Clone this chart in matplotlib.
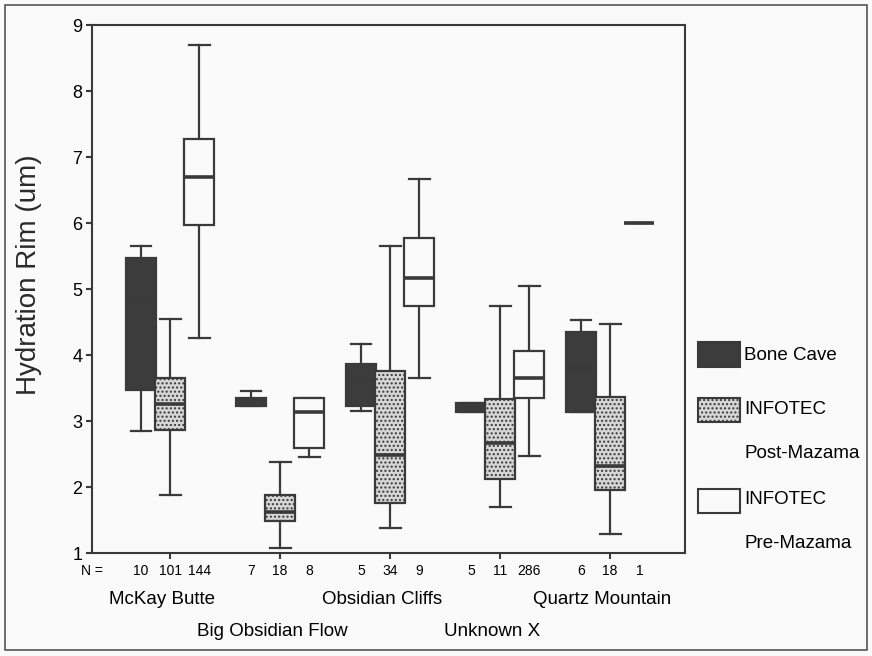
import matplotlib
matplotlib.use("Agg")
import matplotlib.pyplot as plt
from matplotlib.patches import Rectangle
from matplotlib.transforms import blended_transform_factory

plt.rcParams['font.family'] = ['Liberation Sans', 'DejaVu Sans']
plt.rcParams['hatch.linewidth'] = 1.0

# ── data ──
sites = ["McKay Butte", "Big Obsidian Flow", "Obsidian Cliffs", "Unknown X", "Quartz Mountain"]
series = ["Bone Cave", "INFOTEC\nPost-Mazama", "INFOTEC\nPre-Mazama"]

bone_n = [10, 7, 5, 5, 6]
post_n = [101, 18, 34, 11, 18]
pre_n = [144, 8, 9, 286, 1]

# (whislo, q1, med, q3, whishi)
bone_stats = [
    (2.85, 3.47, 4.85, 5.47, 5.65),
    (3.23, 3.23, 3.30, 3.35, 3.45),
    (3.15, 3.23, 3.60, 3.86, 4.17),
    (3.14, 3.14, 3.20, 3.27, 3.27),
    (3.14, 3.14, 3.80, 4.35, 4.53),
]
post_stats = [
    (1.88, 2.86, 3.26, 3.65, 4.55),
    (1.08, 1.48, 1.62, 1.88, 2.38),
    (1.38, 1.76, 2.48, 3.76, 5.65),
    (1.70, 2.12, 2.67, 3.33, 4.74),
    (1.29, 1.95, 2.32, 3.36, 4.47),
]
pre_stats = [
    (4.26, 5.97, 6.70, 7.27, 8.69),
    (2.45, 2.59, 3.14, 3.35, 3.35),
    (3.65, 4.74, 5.17, 5.77, 6.67),
    (2.47, 3.35, 3.65, 4.06, 5.05),
    (6.00, 6.00, 6.00, 6.00, 6.00),
]

ink = '#3a3a3a'
styles = [
    dict(face='#3c3c3c', hatch=None, med=ink),
    dict(face='#d6d6d6', hatch='....', med=ink),
    dict(face='#fafafa', hatch=None, med=ink),
]
bg = '#fafafa'

fig = plt.figure(figsize=(8.72, 6.56), dpi=100, facecolor=bg)
W, H = 872, 656
ax = fig.add_axes([92 / W, (H - 553) / H, 593 / W, 528 / H], facecolor=bg)

off = 0.265
bw = 0.27
all_n = [bone_n, post_n, pre_n]
for k, (stats, st) in enumerate(zip([bone_stats, post_stats, pre_stats], styles)):
    bxp_stats = []
    for s in stats:
        bxp_stats.append(dict(whislo=s[0], q1=s[1], med=s[2], q3=s[3], whishi=s[4], fliers=[]))
    pos = [i + (k - 1) * off for i in range(len(sites))]
    art = ax.bxp(bxp_stats, positions=pos, widths=bw, capwidths=0.19,
                 patch_artist=True, showfliers=False,
                 boxprops=dict(facecolor=st['face'], edgecolor=ink, linewidth=1.6,
                               hatch=st['hatch']),
                 medianprops=dict(color=st['med'], linewidth=2.6),
                 whiskerprops=dict(color=ink, linewidth=1.6),
                 capprops=dict(color=ink, linewidth=1.6))
    for b in art['boxes']:
        b.set_zorder(3)
    for m in art['medians']:
        m.set_zorder(4)

ax.set_xlim(-0.71, 4.68)
ax.set_ylim(1, 9)
ax.set_yticks(range(1, 10))
ax.set_yticklabels([str(v) for v in range(1, 10)], fontsize=13)
ax.set_xticks(range(len(sites)))
ax.set_xticklabels([])
ax.tick_params(axis='both', direction='out', length=4, width=1.5, color=ink, pad=3)
for sp in ax.spines.values():
    sp.set_color(ink)
    sp.set_linewidth(1.5)
ax.set_ylabel("Hydration Rim (um)", fontsize=20, color='#2a2a2a')
ax.yaxis.set_label_coords(-0.085, 0.527)

# N counts and site names under the axis
tr = blended_transform_factory(ax.transData, ax.transAxes)
ax.text(0, -0.034, "N =", transform=ax.transAxes, ha='center', va='center', fontsize=10)
for k, ns in enumerate(all_n):
    for i, n in enumerate(ns):
        ax.text(i + (k - 1) * off, -0.034, str(n), transform=tr, ha='center', va='center',
                fontsize=10)
for i, name in enumerate(sites):
    yy = -0.089 if i % 2 == 0 else -0.148
    ax.text(i - 0.07, yy, name, transform=tr, ha='center', va='center', fontsize=13.5)

# legend drawn by hand to the right of the axes
leg_boxes = [(342, 367), (398, 422), (489, 513)]
leg_lines = [[("Bone Cave", 355)], [("INFOTEC", 410), ("Post-Mazama", 453)],
             [("INFOTEC", 500), ("Pre-Mazama", 543)]]
for st, (y0, y1), lines in zip(styles, leg_boxes, leg_lines):
    fig.add_artist(Rectangle((698 / W, (H - y1) / H), 42 / W, (y1 - y0) / H,
                             transform=fig.transFigure, facecolor=st['face'],
                             edgecolor=ink, linewidth=1.5, hatch=st['hatch']))
    for txt, yc in lines:
        fig.text(744 / W, (H - yc) / H, txt, ha='left', va='center', fontsize=13.5)

# outer frame
fig.add_artist(Rectangle((5 / W, 6 / H), 862 / W, 645 / H, transform=fig.transFigure,
                         fill=False, edgecolor='#555555', linewidth=1.2))

fig.savefig("out.png", dpi=100, facecolor=bg)
